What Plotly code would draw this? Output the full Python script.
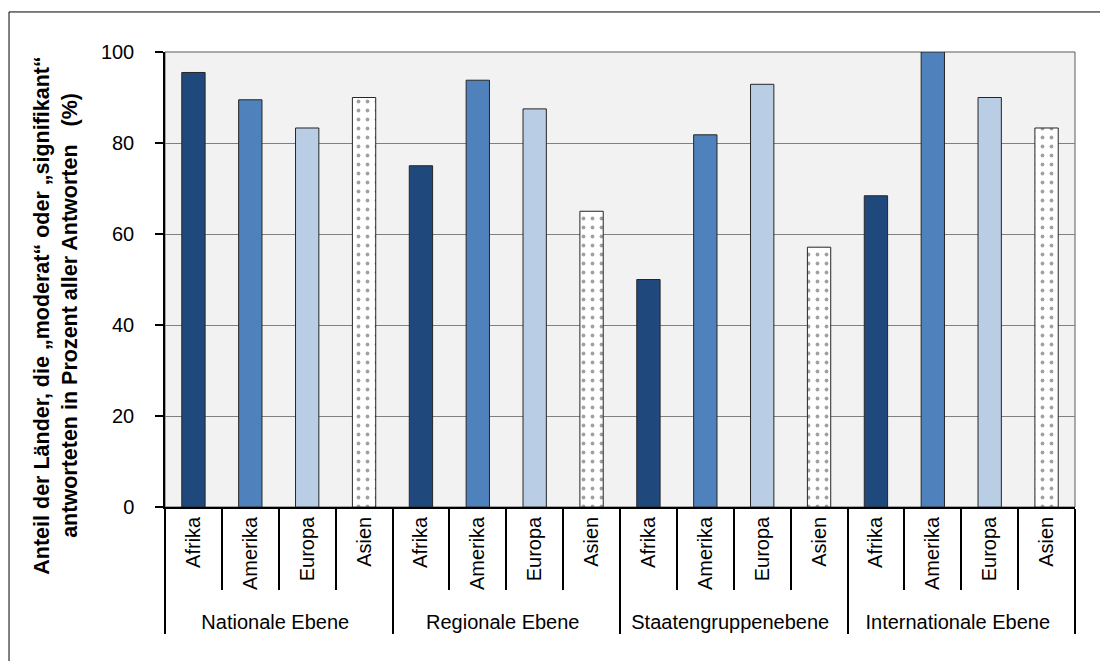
import plotly.graph_objects as go

# Levels of cooperation (outer axis groups) and world regions (inner categories)
levels = ["Nationale Ebene", "Regionale Ebene", "Staatengruppenebene", "Internationale Ebene"]
regions = ["Afrika", "Amerika", "Europa", "Asien"]

# Share of countries answering "moderat" or "signifikant" (%), per level, in region order
nationale = [95.5, 89.5, 83.3, 90.0]
regionale = [75.0, 93.8, 87.5, 65.0]
staatengruppe = [50.0, 81.8, 92.9, 57.1]
international = [68.4, 100.0, 90.0, 83.3]

y_ticks = [0, 20, 40, 60, 80, 100]

# Styling per region
fill = {"Afrika": "#1F497D", "Amerika": "#4F81BD", "Europa": "#B9CDE5", "Asien": "#FFFFFF"}
pattern = {"Afrika": "", "Amerika": "", "Europa": "", "Asien": "."}

series = [nationale, regionale, staatengruppe, international]
outer, inner, values = [], [], []
for lvl, vals in zip(levels, series):
    for reg, v in zip(regions, vals):
        outer.append(lvl)
        inner.append(reg)
        values.append(v)

FONT = "Liberation Sans, Arial, sans-serif"

fig = go.Figure(
    go.Bar(
        x=[outer, inner],
        y=values,
        width=0.41,
        marker=dict(
            color=[fill[r] for r in inner],
            line=dict(color="#262626", width=1),
            pattern=dict(
                shape=[pattern[r] for r in inner],
                fgcolor="#2F78E0",
                bgcolor="#FFFFFF",
                size=9,
                solidity=0.14,
            ),
        ),
        showlegend=False,
        hoverinfo="y",
    )
)

fig.update_layout(
    width=1100,
    height=661,
    margin=dict(l=165, r=25, t=52, b=154),
    paper_bgcolor="#FFFFFF",
    plot_bgcolor="#F2F2F2",
    font=dict(family=FONT, size=20, color="#000000"),
    barmode="overlay",
    xaxis=dict(
        type="multicategory",
        tickangle=-90,
        tickson="boundaries",
        ticks="outside",
        ticklen=81,
        tickwidth=1.5,
        tickcolor="#000000",
        showdividers=True,
        dividercolor="#000000",
        dividerwidth=1.5,
        showline=True,
        linecolor="#000000",
        linewidth=1.5,
        showgrid=False,
        tickfont=dict(family=FONT, size=20, color="#000000"),
    ),
    yaxis=dict(
        range=[0, 100],
        tickvals=y_ticks,
        ticks="outside",
        ticklen=8,
        tickwidth=1.5,
        tickcolor="#000000",
        showline=True,
        linecolor="#000000",
        linewidth=1.5,
        showgrid=True,
        gridcolor="#808080",
        gridwidth=1,
        zeroline=False,
        tickfont=dict(family=FONT, size=20, color="#000000"),
        ticklabelstandoff=17,
    ),
    shapes=[
        # plot area frame (top and right edges)
        dict(type="rect", xref="paper", yref="paper", x0=0, x1=1, y0=0, y1=1,
             line=dict(color="#5A5A5A", width=1), layer="below"),
        # chart border
        dict(type="rect", xref="paper", yref="paper",
             x0=-0.1714, x1=1.0385, y0=-0.358, y1=1.088,
             line=dict(color="#000000", width=1)),
    ],
    annotations=[
        dict(
            text="Anteil der Länder, die „moderat“ oder „signifikant“<br>"
                 "antworteten in Prozent aller Antworten\u00a0\u00a0\u00a0(%)",
            xref="paper", yref="paper", x=-0.12, y=0.42,
            xanchor="center", yanchor="middle",
            textangle=-90, showarrow=False,
            font=dict(family=FONT, size=21.5, color="#000000", weight="bold"),
        )
    ],
)

fig.write_html("out.html")
